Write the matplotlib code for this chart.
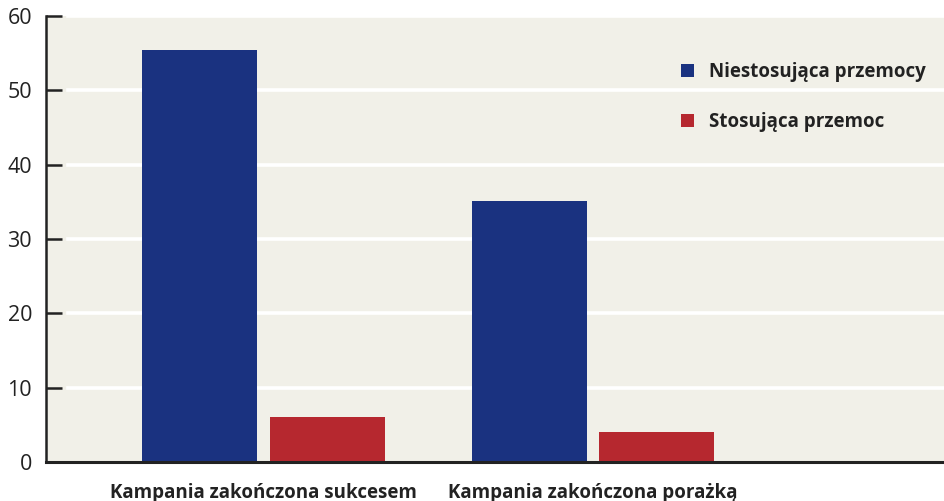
import matplotlib
matplotlib.use('Agg')
import matplotlib.pyplot as plt
import numpy as np

# data
categories = ['Kampania zakończona sukcesem', 'Kampania zakończona porażką']
series_names = ['Niestosująca przemocy', 'Stosująca przemoc']
nonviolent = [55.4, 35.1]
violent = [6.1, 4.0]
yticks = [0, 10, 20, 30, 40, 50, 60]

blue = '#1A3280'
red = '#B6282F'
bg = '#F1F0E8'
dark = '#222222'

plt.rcParams['font.family'] = ['Open Sans', 'DejaVu Sans']

fig = plt.figure(figsize=(9.44, 5.01), dpi=100)
ax = fig.add_axes([46/944, 39/501, 898/944, 446/501])
ax.set_facecolor(bg)

x = np.arange(len(categories))
w = 0.349
off = 0.194
ax.bar(x - off, nonviolent, w, color=blue, label=series_names[0], zorder=3)
ax.bar(x + off, violent, w, color=red, label=series_names[1], zorder=3)

ax.set_xlim(-0.660, 2.065)
ax.set_ylim(0, 60)
ax.set_yticks(yticks)
for t in yticks[1:]:
    ax.axhline(t, xmin=0.0245, xmax=1, color='white', lw=2.6, zorder=1)

ax.set_xticks(x)
ax.set_xticklabels(categories, fontsize=13.5, fontweight='bold', color=dark)
ax.tick_params(axis='x', length=0, pad=15)
ax.tick_params(axis='y', direction='in', length=11.5, width=1.8, color=dark,
               labelsize=15.5, labelcolor=dark, pad=10)

for s in ['top', 'right']:
    ax.spines[s].set_visible(False)
ax.spines['left'].set_linewidth(1.8)
ax.spines['left'].set_color(dark)
ax.spines['bottom'].set_linewidth(2.2)
ax.spines['bottom'].set_color(dark)
ax.spines['bottom'].set_zorder(4)

leg = ax.legend(loc='upper left', bbox_to_anchor=(664/944, 1 - 45/501),
                bbox_transform=fig.transFigure, frameon=False,
                handlelength=0.7, handleheight=0.7, handletextpad=0.8,
                labelspacing=1.6, prop={'size': 13.5, 'weight': 'bold'})
for t in leg.get_texts():
    t.set_color(dark)

fig.savefig('out.png', dpi=100)
